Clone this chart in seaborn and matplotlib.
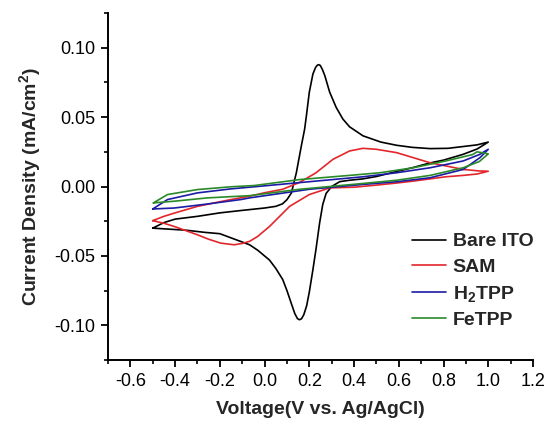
import numpy as np
import pandas as pd
import matplotlib
matplotlib.use("Agg")
import matplotlib.pyplot as plt
import seaborn as sns

# ---- data (closed CV loops: forward then reverse) ----
series_names = ["Bare ITO", "SAM", "H$_2$TPP", "FeTPP"]
colors = ["#000000", "#e3262b", "#1b1ba6", "#2a8a2a"]

bare_v = [-0.50, -0.45, -0.40, -0.30, -0.20, -0.10, 0.00, 0.05, 0.08, 0.10, 0.12,
          0.142, 0.164, 0.179, 0.187, 0.200, 0.216, 0.228, 0.236, 0.242, 0.249,
          0.258, 0.269, 0.291, 0.320, 0.350, 0.380, 0.440, 0.520, 0.590, 0.660,
          0.740, 0.820, 0.888, 0.950, 1.000,
          0.950, 0.888, 0.800, 0.740, 0.660, 0.590, 0.500, 0.440, 0.380, 0.336,
          0.300, 0.275, 0.260, 0.246, 0.230, 0.216, 0.200, 0.188, 0.175, 0.165,
          0.156, 0.147, 0.135, 0.120, 0.100, 0.081, 0.050, 0.022, -0.030, -0.067,
          -0.100, -0.150, -0.200, -0.270, -0.350, -0.400, -0.450, -0.500]
bare_i = [-0.0300, -0.0260, -0.0235, -0.0215, -0.0190, -0.0172, -0.0155, -0.0143,
          -0.0125, -0.0095, -0.0046, 0.0099, 0.0290, 0.0413, 0.0510, 0.0680,
          0.0810, 0.0858, 0.0874, 0.0878, 0.0872, 0.0845, 0.0800, 0.0680, 0.0570,
          0.0486, 0.0430, 0.0365, 0.0320, 0.0297, 0.0282, 0.0273, 0.0275, 0.0288,
          0.0300, 0.0320,
          0.0270, 0.0232, 0.0190, 0.0170, 0.0135, 0.0108, 0.0072, 0.0055, 0.0045,
          0.0035, 0.0000, -0.0050, -0.0130, -0.0263, -0.0450, -0.0600, -0.0760,
          -0.0860, -0.0925, -0.0953, -0.0960, -0.0952, -0.0915, -0.0845, -0.0750,
          -0.0670, -0.0590, -0.0530, -0.0460, -0.0420, -0.0400, -0.0370, -0.0340,
          -0.0330, -0.0315, -0.0310, -0.0305, -0.0300]

sam_v = [-0.50, -0.45, -0.40, -0.30, -0.20, -0.15, -0.067, 0.00, 0.081, 0.157,
         0.230, 0.306, 0.380, 0.440, 0.500, 0.590, 0.740, 0.888, 0.960, 1.000,
         0.950, 0.888, 0.810, 0.740, 0.665, 0.590, 0.500, 0.400, 0.291, 0.200,
         0.112, 0.022, -0.031, -0.067, -0.100, -0.136, -0.196, -0.250, -0.300,
         -0.400, -0.450, -0.500]
sam_i = [-0.0246, -0.0215, -0.0190, -0.0143, -0.0110, -0.0094, -0.0070, -0.0045,
         -0.0020, 0.0030, 0.0099, 0.0196, 0.0256, 0.0275, 0.0268, 0.0244, 0.0171,
         0.0123, 0.0112, 0.0110,
         0.0090, 0.0080, 0.0070, 0.0055, 0.0039, 0.0025, 0.0010, -0.0005, -0.0010,
         -0.0058, -0.0143, -0.0288, -0.0360, -0.0395, -0.0410, -0.0420, -0.0408,
         -0.0380, -0.0348, -0.0290, -0.0265, -0.0246]

h2_v = [-0.50, -0.434, -0.30, -0.15, -0.046, 0.23, 0.44, 0.59, 0.74, 0.888, 0.96, 1.00,
        0.963, 0.888, 0.74, 0.59, 0.44, 0.20, -0.067, -0.106, -0.255, -0.404, -0.50]
h2_i = [-0.0162, -0.0094, -0.0046, -0.0017, -0.0002, 0.0039, 0.0070, 0.0099, 0.0135,
        0.0184, 0.0230, 0.0268,
        0.0208, 0.0123, 0.0063, 0.0034, 0.0015, -0.0020, -0.0082, -0.0094, -0.0126,
        -0.0155, -0.0162]

fe_v = [-0.497, -0.434, -0.30, -0.15, -0.046, 0.157, 0.38, 0.515, 0.665, 0.81, 0.93,
        0.95, 1.00,
        0.96, 0.888, 0.74, 0.59, 0.44, 0.157, -0.067, -0.255, -0.404, -0.497]
fe_i = [-0.0118, -0.0058, -0.0022, -0.0002, 0.0007, 0.0050, 0.0080, 0.0099, 0.0135,
        0.0184, 0.0230, 0.0250, 0.0235,
        0.0180, 0.0135, 0.0080, 0.0045, 0.0022, -0.0020, -0.0066, -0.0082, -0.0106,
        -0.0118]

x_ticks = [-0.6, -0.4, -0.2, 0.0, 0.2, 0.4, 0.6, 0.8, 1.0, 1.2]
y_ticks = [-0.10, -0.05, 0.00, 0.05, 0.10]

# ---- build long table ----
frames = []
for name, v, i in zip(series_names, [bare_v, sam_v, h2_v, fe_v], [bare_i, sam_i, h2_i, fe_i]):
    frames.append(pd.DataFrame({"V": v, "I": i, "series": name, "order": np.arange(len(v))}))
df = pd.concat(frames, ignore_index=True)

# ---- style ----
sns.set_style("ticks")
plt.rcParams["font.family"] = ["Liberation Sans", "DejaVu Sans"]
plt.rcParams["mathtext.fontset"] = "custom"
plt.rcParams["mathtext.rm"] = "Liberation Sans"
plt.rcParams["mathtext.bf"] = "Liberation Sans:bold"
plt.rcParams["mathtext.default"] = "bf"
plt.rcParams["lines.solid_joinstyle"] = "round"

fig = plt.figure(figsize=(5.48, 4.21), dpi=100)
ax = fig.add_axes([108 / 548, 1 - 360 / 421, (533 - 108) / 548, (360 - 13) / 421])

sns.lineplot(data=df, x="V", y="I", hue="series", hue_order=series_names,
             palette=colors, sort=False, estimator=None, units="series",
             linewidth=1.2, ax=ax, legend=True)

ax.set_xlim(-0.7, 1.2)
ax.set_ylim(-0.125, 0.125)
ax.set_xticks(x_ticks)
ax.set_xticklabels([f"{t:.1f}" for t in x_ticks])
ax.set_yticks(y_ticks)
ax.set_yticklabels([f"{t:.2f}" for t in y_ticks])
ax.xaxis.set_minor_locator(matplotlib.ticker.MultipleLocator(0.1))
ax.yaxis.set_minor_locator(matplotlib.ticker.MultipleLocator(0.025))
ax.tick_params(which="major", direction="out", length=5, width=1.3, labelsize=13,
               colors="black", pad=4)
ax.tick_params(which="minor", direction="out", length=3, width=1.2, colors="black")
for s in ["top", "right"]:
    ax.spines[s].set_visible(False)
for s in ["left", "bottom"]:
    ax.spines[s].set_linewidth(1.4)
    ax.spines[s].set_color("black")

ax.set_xlabel("Voltage(V vs. Ag/AgCl)", fontsize=14, fontweight="bold", labelpad=8)
ax.set_ylabel("Current Density (mA/cm$^2$)", fontsize=14, fontweight="bold", labelpad=8)

handles, labels = ax.get_legend_handles_labels()
for h in handles:
    h.set_linewidth(1.2)
ax.legend(handles, labels, frameon=False, loc="upper left",
          bbox_to_anchor=(404 / 548, 1 - 225 / 421), bbox_transform=fig.transFigure,
          prop={"weight": "bold", "size": 14}, handlelength=1.75, handletextpad=0.35,
          labelspacing=0.4, borderaxespad=0)

fig.savefig("out.png", dpi=100)
